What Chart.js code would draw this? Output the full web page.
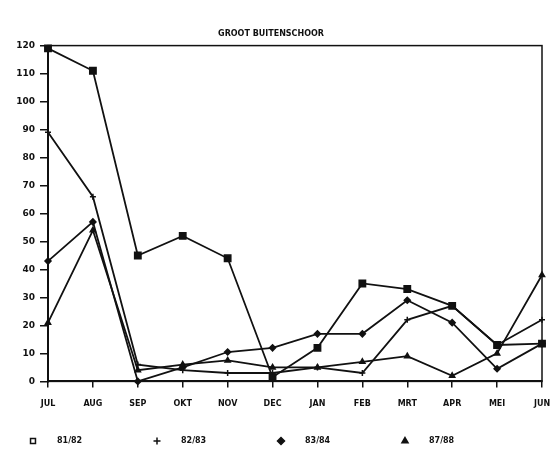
<!DOCTYPE html>
<html lang="nl">
<head>
  <meta charset="UTF-8">
  <title>Groot Buitenschoor</title>
  <script src="https://cdn.jsdelivr.net/npm/chart.js"></script>
  <style>
    html, body { margin: 0; padding: 0; background: #fff; }
    canvas { display: block; }
  </style>
</head>
<body>
  <canvas id="chart" width="558" height="454"></canvas>

  <script>
    // months on the x axis
    const months = ["JUL", "AUG", "SEP", "OKT", "NOV", "DEC", "JAN", "FEB", "MRT", "APR", "MEI", "JUN"];

    // y axis range and step
    const yMin = 0;
    const yMax = 120;
    const yStep = 10;

    // season labels
    const seasons = ["81/82", "82/83", "83/84", "87/88"];

    // values
    const s8182 = [119, 111, 45, 52, 44, 1.5, 12, 35, 33, 27, 13, 13.5];
    const s8283 = [89, 66, 6, 4, 3, 3, 5, 3, 22, 27, 13, 22];
    const s8384 = [43, 57, 0, 5, 10.5, 12, 17, 17, 29, 21, 4.5, 13.5];
    const s8788 = [21, 54, 4, 6, 7.5, 5, 5, 7, 9, 2, 10, 38];

    const FONT = '"DejaVu Sans", sans-serif';

    // draws the box round the plot area (top and right edge)
    const frame = {
      id: 'frame',
      beforeDatasetsDraw(chart) {
        const { left, top, right, bottom } = chart.chartArea;
        const ctx = chart.ctx;
        ctx.save();
        ctx.strokeStyle = '#111';
        ctx.lineWidth = 1.5;
        ctx.strokeRect(left, top, right - left, bottom - top);
        ctx.restore();
      }
    };

    // legend spread along the bottom, like the original
    const bottomLegend = {
      id: 'bottomLegend',
      afterDraw(chart) {
        const ctx = chart.ctx;
        const y = chart.height - 13;
        const x0 = 33;
        const step = 124;
        chart.data.datasets.forEach((ds, i) => {
          const x = x0 + i * step;
          ctx.save();
          ctx.strokeStyle = '#111';
          ctx.fillStyle = ds.pointStyle === 'rect' ? '#fff' : '#111';
          ctx.lineWidth = 1.5;
          const opts = { pointStyle: ds.pointStyle, radius: 3.5, borderWidth: 1.5, rotation: 0 };
          if (Chart.helpers && Chart.helpers.drawPoint) {
            Chart.helpers.drawPoint(ctx, opts, x, y);
          } else {
            ctx.beginPath();
            ctx.arc(x, y, 2.5, 0, Math.PI * 2);
            ctx.fill();
            ctx.stroke();
          }
          ctx.fillStyle = '#111';
          ctx.font = 'bold 8px ' + FONT;
          ctx.textAlign = 'left';
          ctx.textBaseline = 'middle';
          ctx.fillText(ds.label, x + 24, y);
          ctx.restore();
        });
      }
    };

    function series(label, values, style, radius) {
      return {
        label: label,
        data: values,
        borderColor: '#111',
        backgroundColor: '#111',
        borderWidth: 1.8,
        pointStyle: style,
        pointRadius: radius,
        pointBorderWidth: 1.5,
        pointBackgroundColor: '#111',
        pointBorderColor: '#111',
        tension: 0,
        clip: false
      };
    }

    new Chart(document.getElementById("chart").getContext("2d"), {
      type: 'line',
      data: {
        labels: months,
        datasets: [
          series(seasons[0], s8182, 'rect', 4.5),
          series(seasons[1], s8283, 'cross', 3),
          series(seasons[2], s8384, 'rectRot', 3),
          series(seasons[3], s8788, 'triangle', 3)
        ]
      },
      options: {
        responsive: false,
        animation: false,
        devicePixelRatio: 1,
        layout: { padding: { left: 0, right: 16, top: 0, bottom: 33 } },
        plugins: {
          legend: { display: false },
          tooltip: { enabled: false },
          title: {
            display: true,
            text: 'GROOT BUITENSCHOOR',
            color: '#111',
            font: { family: FONT, size: 8, weight: 'bold' },
            padding: { top: 29, bottom: 7 }
          }
        },
        scales: {
          x: {
            offset: false,
            afterFit(scale) { scale.paddingRight = 0; scale.paddingLeft = 0; },
            grid: {
              drawOnChartArea: false,
              drawTicks: true,
              tickLength: 6,
              color: '#111',
              lineWidth: 1.5
            },
            border: { display: true, color: '#111', width: 2 },
            ticks: {
              color: '#111',
              font: { family: FONT, size: 8, weight: 'bold' },
              padding: 12,
              maxRotation: 0,
              autoSkip: false
            }
          },
          y: {
            min: yMin,
            max: yMax,
            afterFit(scale) { scale.width = 48; },
            grid: {
              drawOnChartArea: false,
              drawTicks: true,
              tickLength: 8,
              color: '#111',
              lineWidth: 1.5
            },
            border: { display: true, color: '#111', width: 2 },
            ticks: {
              stepSize: yStep,
              color: '#111',
              font: { family: FONT, size: 9, weight: 'bold' },
              padding: 5
            }
          }
        }
      },
      plugins: [frame, bottomLegend]
    });
  </script>
</body>
</html>
